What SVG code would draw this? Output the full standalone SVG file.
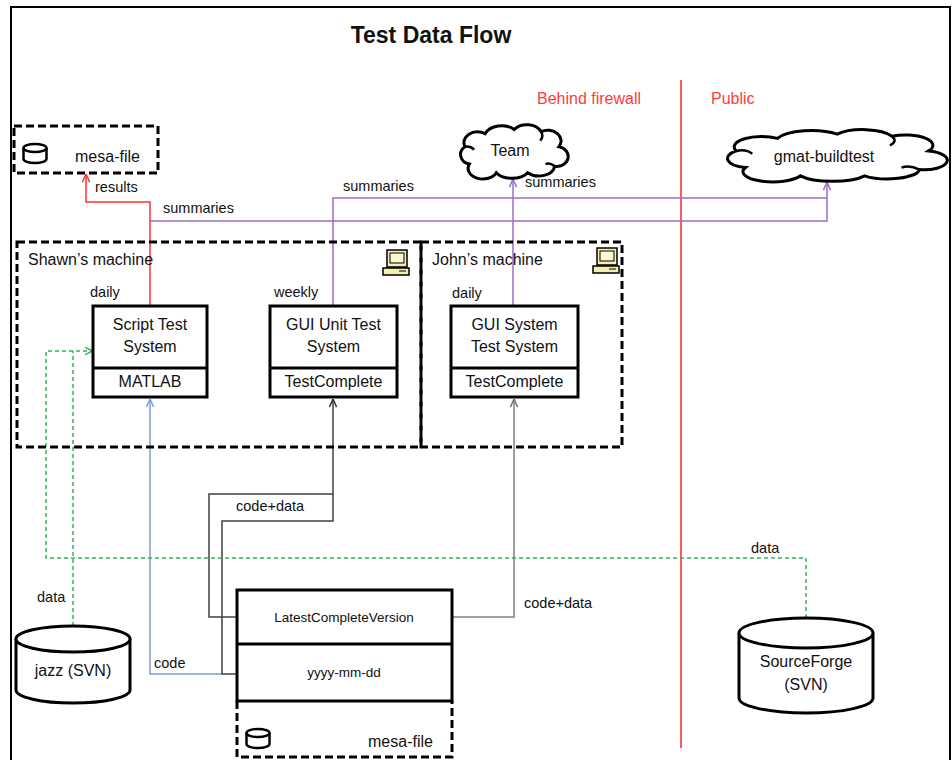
<svg xmlns="http://www.w3.org/2000/svg" width="952" height="760" viewBox="0 0 952 760">
<style>
text{font-family:"Liberation Sans",Arial,sans-serif;fill:#111}
.title{font-size:23px;font-weight:bold}
.zone{font-size:16px;fill:#ff3b3b}
.big{font-size:16px}
.lbl{font-size:14.5px}
.sm{font-size:13.5px}
.mid{text-anchor:middle}
.dash{fill:none;stroke:#000;stroke-width:3;stroke-dasharray:8,4}
.solid{fill:#fff;stroke:#000;stroke-width:3}
.c{fill:none;stroke-width:1.5}
.red{stroke:#ff3333}
.pur{stroke:#9b6cc9}
.blu{stroke:#7c9fd6}
.blk{stroke:#404040}
.gry{stroke:#808080}
.grn{stroke:#2fb55a;stroke-dasharray:4,3}
</style>
<defs>
<marker id="aRed" viewBox="0 0 10 10" refX="10" refY="5" markerWidth="9" markerHeight="9" markerUnits="userSpaceOnUse" orient="auto"><path d="M1,1 L10,5 L1,9" fill="none" stroke="#ff3333" stroke-width="1.6"/></marker>
<marker id="aPur" viewBox="0 0 10 10" refX="10" refY="5" markerWidth="9" markerHeight="9" markerUnits="userSpaceOnUse" orient="auto"><path d="M1,1 L10,5 L1,9" fill="none" stroke="#9b6cc9" stroke-width="1.6"/></marker>
<marker id="aBlu" viewBox="0 0 10 10" refX="10" refY="5" markerWidth="9" markerHeight="9" markerUnits="userSpaceOnUse" orient="auto"><path d="M1,1 L10,5 L1,9" fill="none" stroke="#7c9fd6" stroke-width="1.6"/></marker>
<marker id="aBlk" viewBox="0 0 10 10" refX="10" refY="5" markerWidth="9" markerHeight="9" markerUnits="userSpaceOnUse" orient="auto"><path d="M1,1 L10,5 L1,9" fill="none" stroke="#303030" stroke-width="1.6"/></marker>
<marker id="aGry" viewBox="0 0 10 10" refX="10" refY="5" markerWidth="9" markerHeight="9" markerUnits="userSpaceOnUse" orient="auto"><path d="M1,1 L10,5 L1,9" fill="none" stroke="#707070" stroke-width="1.6"/></marker>
<marker id="aGrn" viewBox="0 0 10 10" refX="10" refY="5" markerWidth="9" markerHeight="9" markerUnits="userSpaceOnUse" orient="auto"><path d="M1,1 L10,5 L1,9" fill="none" stroke="#2fb55a" stroke-width="1.6"/></marker>
<g id="pc">
<rect x="4" y="0" width="20" height="17" fill="#f3efb0" stroke="#000" stroke-width="1.5"/>
<rect x="7" y="3" width="14" height="10" fill="#fbf8d0" stroke="#000" stroke-width="1"/>
<rect x="0" y="18" width="26" height="7" fill="#f3efb0" stroke="#000" stroke-width="1.5"/>
<line x1="16" y1="21" x2="23" y2="21" stroke="#000" stroke-width="1"/>
</g>
<g id="cyl">
<ellipse cx="13" cy="5" rx="11.5" ry="4" fill="none" stroke="#000" stroke-width="2.5"/>
<path d="M1.5,5 L1.5,16 A11.5,4 0 0 0 24.5,16 L24.5,5" fill="none" stroke="#000" stroke-width="2.5"/>
</g>
</defs>

<rect width="952" height="760" fill="#fff"/>
<path d="M11,760 L11,7 L950,7 L950,760" fill="none" stroke="#000" stroke-width="2"/>

<text class="title mid" x="431" y="43">Test Data Flow</text>
<line x1="681" y1="80" x2="681" y2="748" stroke="#ff5a5a" stroke-width="2"/>
<text class="zone" x="537" y="104">Behind firewall</text>
<text class="zone" x="711" y="104">Public</text>

<g id="connectors">
<path class="c red" d="M150,305 L150,202 L86,202 L86,174" marker-end="url(#aRed)"/>
<path class="c pur" d="M150,221 L827,221 L827,182" marker-end="url(#aPur)"/>
<path class="c pur" d="M333,305 L333,198 L827,198"/>
<path class="c pur" d="M513,305 L513,179" marker-end="url(#aPur)"/>
<path class="c blu" d="M222,674 L150,674 L150,399" marker-end="url(#aBlu)"/>
<path class="c blk" d="M237,617 L209,617 L209,494 L333,494 L333,399" marker-end="url(#aBlk)"/>
<path class="c blk" d="M237,674 L222,674 L222,521 L333,521 L333,494"/>
<path class="c gry" d="M452,617 L514,617 L514,399" marker-end="url(#aGry)"/>
<path class="c grn" d="M806,618 L806,558 L46,558 L46,351 L93,351" marker-end="url(#aGrn)"/>
<path class="c grn" d="M73,626 L73,351"/>
<text class="lbl" x="95" y="192">results</text>
<text class="lbl" x="163" y="213">summaries</text>
<text class="lbl" x="343" y="191">summaries</text>
<text class="lbl" x="525" y="187">summaries</text>
<text class="lbl" x="236" y="511">code+data</text>
<text class="lbl" x="524" y="608">code+data</text>
<text class="lbl" x="751" y="553">data</text>
<text class="lbl" x="37" y="602">data</text>
<text class="lbl" x="154" y="668">code</text>
</g>

<g id="mesa-file-top">
<rect class="dash" x="14" y="126" width="144" height="47" fill="#fff"/>
<use href="#cyl" x="22" y="143"/>
<text class="big" x="75" y="162">mesa-file</text>
</g>

<g id="team">
<path d="M469.4,164 A11.2,9.7 0 0 1 465,146.8 A13.4,10.8 0 0 1 485.1,133.8 A17.9,13 0 0 1 514.2,129.5 A15.7,11.9 0 0 1 541.1,131.6 A13.4,10.8 0 0 1 559,146.8 A11.2,9.7 0 0 1 554.6,166.2 A15.7,10.8 0 0 1 527.7,172.7 A17.9,10.8 0 0 1 496.3,172.7 A13.4,9.7 0 0 1 469.4,164 Z" fill="#fff" stroke="#000" stroke-width="3"/>
<path d="M465,146.8 q6,-1 9,3 M541.1,131.6 q3,5 -1,9 M554.6,166.2 q-5,-4 -9,-2" fill="none" stroke="#000" stroke-width="2.5"/>
<text class="big mid" x="510" y="156">Team</text>
</g>

<g id="gmat-buildtest">
<path d="M745.5,167.5 A22.9,9.4 0 0 1 736.3,150.9 A27.5,10.4 0 0 1 777.5,138.4 A36.6,12.5 0 0 1 837.1,134.2 A32.1,11.4 0 0 1 892,136.3 A27.5,10.4 0 0 1 928.7,150.9 A22.9,9.4 0 0 1 919.5,169.6 A32.1,10.4 0 0 1 864.6,175.8 A36.6,10.4 0 0 1 800.4,175.8 A27.5,9.4 0 0 1 745.5,167.5 Z" fill="#fff" stroke="#000" stroke-width="3"/>
<path d="M736.3,150.9 q10,-2 16,3 M892,136.3 q6,5 -2,9 M919.5,169.6 q-10,-5 -18,-2" fill="none" stroke="#000" stroke-width="2.5"/>
<text class="big mid" x="824" y="162">gmat-buildtest</text>
</g>

<g id="shawns-machine">
<rect class="dash" x="17" y="242" width="404" height="205"/>
<text class="big" x="28" y="265">Shawn’s machine</text>
<use href="#pc" x="383" y="250"/>
</g>

<g id="johns-machine">
<rect class="dash" x="421" y="242" width="201" height="205"/>
<text class="big" x="432" y="265">John’s machine</text>
<use href="#pc" x="593" y="248"/>
</g>

<g id="script-test-system">
<text class="lbl" x="90" y="297">daily</text>
<rect class="solid" x="93" y="306" width="114" height="91"/>
<line x1="93" y1="368" x2="207" y2="368" stroke="#000" stroke-width="3"/>
<text class="big mid" x="150" y="330">Script Test</text>
<text class="big mid" x="150" y="352">System</text>
<text class="big mid" x="150" y="387">MATLAB</text>
</g>

<g id="gui-unit-test-system">
<text class="lbl" x="274" y="297">weekly</text>
<rect class="solid" x="270" y="306" width="127" height="91"/>
<line x1="270" y1="368" x2="397" y2="368" stroke="#000" stroke-width="3"/>
<text class="big mid" x="333.5" y="330">GUI Unit Test</text>
<text class="big mid" x="333.5" y="352">System</text>
<text class="big mid" x="333.5" y="387">TestComplete</text>
</g>

<g id="gui-system-test-system">
<text class="lbl" x="452" y="298">daily</text>
<rect class="solid" x="451" y="306" width="127" height="91"/>
<line x1="451" y1="368" x2="578" y2="368" stroke="#000" stroke-width="3"/>
<text class="big mid" x="514.5" y="330">GUI System</text>
<text class="big mid" x="514.5" y="352">Test System</text>
<text class="big mid" x="514.5" y="387">TestComplete</text>
</g>

<g id="mesa-file-bottom">
<path class="dash" d="M237,701 L237,757 L452,757 L452,701"/>
<rect class="solid" x="237" y="590" width="215" height="111"/>
<line x1="237" y1="644" x2="452" y2="644" stroke="#000" stroke-width="3"/>
<text class="sm mid" x="344" y="622">LatestCompleteVersion</text>
<text class="sm mid" x="344" y="677">yyyy-mm-dd</text>
<use href="#cyl" x="245" y="728"/>
<text class="big" x="368" y="747">mesa-file</text>
</g>

<g id="jazz">
<path d="M16,639 L16,690 A57,13 0 0 0 130,690 L130,639" fill="#fff" stroke="#000" stroke-width="3"/>
<ellipse cx="73" cy="639" rx="57" ry="13" fill="#fff" stroke="#000" stroke-width="3"/>
<text class="big mid" x="73" y="676">jazz (SVN)</text>
</g>

<g id="sourceforge">
<path d="M739,633 L739,698 A67,15 0 0 0 873,698 L873,633" fill="#fff" stroke="#000" stroke-width="3"/>
<ellipse cx="806" cy="633" rx="67" ry="15" fill="#fff" stroke="#000" stroke-width="3"/>
<text class="big mid" x="806" y="667">SourceForge</text>
<text class="big mid" x="806" y="690">(SVN)</text>
</g>
</svg>
